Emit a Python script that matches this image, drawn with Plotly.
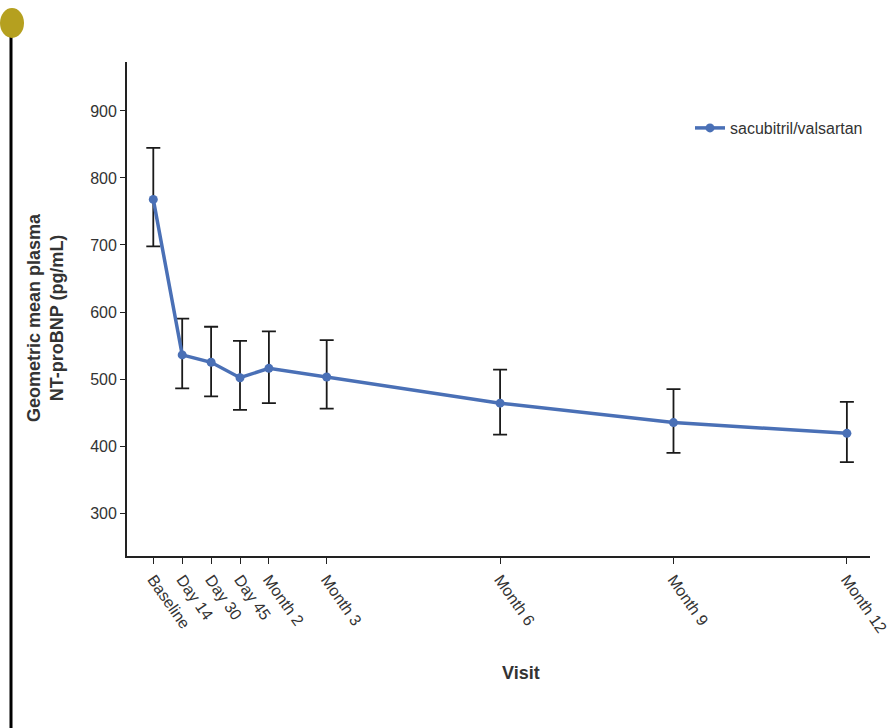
import plotly.graph_objects as go

# Visit schedule (position in months) and labels
visits = ["Baseline", "Day 14", "Day 30", "Day 45", "Month 2", "Month 3", "Month 6", "Month 9", "Month 12"]
visit_month = [0, 0.5, 1, 1.5, 2, 3, 6, 9, 12]

# Geometric mean NT-proBNP (pg/mL) with 95% CI bounds
gmean = [768, 536, 525, 502, 516, 503, 464, 435, 419]
ci_upper = [845, 590, 578, 557, 571, 558, 514, 485, 466]
ci_lower = [698, 486, 474, 454, 464, 456, 417, 390, 376]

err_plus = [u - m for u, m in zip(ci_upper, gmean)]
err_minus = [m - l for m, l in zip(gmean, ci_lower)]

BLUE = "#4a70b6"
FONT = "Liberation Sans, Arial, sans-serif"
TXT = "#333333"

fig = go.Figure()
fig.add_trace(go.Scatter(
    x=visit_month, y=gmean,
    mode="lines+markers",
    name="sacubitril/valsartan",
    line=dict(color=BLUE, width=3.5),
    marker=dict(color=BLUE, size=9),
    error_y=dict(type="data", symmetric=False, array=err_plus, arrayminus=err_minus,
                 color="#1a1a1a", thickness=1.8, width=7),
))

# plot-area geometry in pixels
L, R, T, B = 127, 21, 62, 172
W, H = 891, 728
pw, ph = W - L - R, H - T - B


def px(xp):
    return (xp - L) / pw


def py(yp):
    return (H - B - yp) / ph


fig.update_layout(
    width=W, height=H,
    margin=dict(l=L, r=R, t=T, b=B, autoexpand=False),
    paper_bgcolor="white", plot_bgcolor="white",
    font=dict(family=FONT, size=16, color=TXT),
    showlegend=True,
    legend=dict(x=px(690), y=py(111), xanchor="left", yanchor="top",
                bgcolor="rgba(0,0,0,0)", font=dict(size=16, color=TXT),
                itemwidth=30),
    xaxis=dict(
        range=[-0.455, 12.4],
        tickmode="array", tickvals=visit_month, ticktext=visits,
        tickangle=55, ticks="outside", ticklen=6, tickwidth=1.3, tickcolor="#222222",
        showline=True, linecolor="#222222", linewidth=1.8,
        showgrid=False, zeroline=False, ticklabeloverflow="allow", automargin=False,
        tickfont=dict(size=16, color=TXT),
    ),
    yaxis=dict(
        range=[236, 973],
        tickvals=[300, 400, 500, 600, 700, 800, 900],
        ticks="outside", ticklen=5, tickwidth=1.3, tickcolor="#222222",
        showline=True, linecolor="#222222", linewidth=1.8,
        showgrid=False, zeroline=False, automargin=False,
        tickfont=dict(size=16, color=TXT),
    ),
    annotations=[
        dict(text="<b>Geometric mean plasma<br>NT-proBNP (pg/mL)</b>",
             xref="paper", yref="paper", x=px(45), y=py(318),
             textangle=-90, showarrow=False, xanchor="center", yanchor="middle",
             font=dict(family=FONT, size=18, color=TXT)),
        dict(text="<b>Visit</b>", xref="paper", yref="paper", x=px(521), y=py(673),
             showarrow=False, xanchor="center", yanchor="middle",
             font=dict(family=FONT, size=18, color=TXT)),
    ],
    shapes=[
        dict(type="line", xref="paper", yref="paper",
             x0=px(11), x1=px(11), y0=py(36), y1=py(728),
             line=dict(color="black", width=3)),
        dict(type="circle", xref="paper", yref="paper",
             x0=px(0), x1=px(24), y0=py(8), y1=py(38),
             fillcolor="#b5a01f", line=dict(color="#b5a01f", width=0)),
    ],
)

fig.write_html("out.html")
